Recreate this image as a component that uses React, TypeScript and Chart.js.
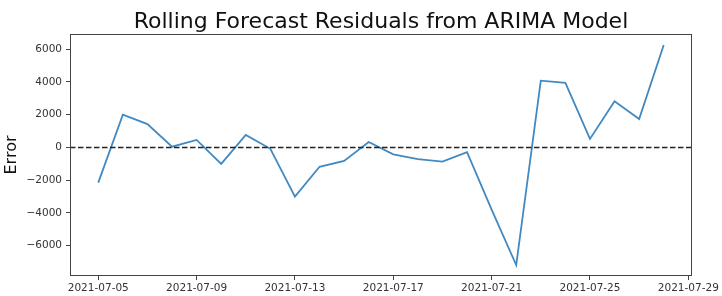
import React, { useEffect, useRef } from "react";
import { Chart, registerables } from "chart.js";

Chart.register(...registerables);

const dates = [
  "2021-07-05", "2021-07-06", "2021-07-07", "2021-07-08", "2021-07-09", "2021-07-10",
  "2021-07-11", "2021-07-12", "2021-07-13", "2021-07-14", "2021-07-15", "2021-07-16",
  "2021-07-17", "2021-07-18", "2021-07-19", "2021-07-20", "2021-07-21", "2021-07-22",
  "2021-07-23", "2021-07-24", "2021-07-25", "2021-07-26", "2021-07-27", "2021-07-28",
];
const residuals = [
  -2150, 2000, 1430, 50, 460, -1000,
  770, -80, -3000, -1180, -820, 330,
  -420, -710, -860, -280, -3800, -7180,
  4080, 3950, 520, 2820, 1740, 6260,
];
const xTickDates = ["2021-07-05", "2021-07-09", "2021-07-13", "2021-07-17", "2021-07-21", "2021-07-25", "2021-07-29"];
const yTicks = [-6000, -4000, -2000, 0, 2000, 4000, 6000];
const titleText = "Rolling Forecast Residuals from ARIMA Model";

const DAY = 86400000;
const t0 = Date.parse(dates[0]);
const dayIndex = (d: string) => Math.round((Date.parse(d) - t0) / DAY);

const FONT = "'DejaVu Sans', sans-serif";

const framePlugin = {
  id: "frameAndZero",
  afterDatasetsDraw(chart: any) {
    const { ctx, chartArea, scales } = chart;
    ctx.save();
    // zero line
    const y0 = scales.y.getPixelForValue(0);
    ctx.strokeStyle = "#222";
    ctx.lineWidth = 1.5;
    ctx.setLineDash([5.5, 2.5]);
    ctx.beginPath();
    ctx.moveTo(chartArea.left, y0);
    ctx.lineTo(chartArea.right, y0);
    ctx.stroke();
    ctx.setLineDash([]);
    // frame
    ctx.strokeStyle = "#444";
    ctx.lineWidth = 1;
    ctx.strokeRect(
      Math.round(chartArea.left) + 0.5,
      Math.round(chartArea.top) + 0.5,
      Math.round(chartArea.right - chartArea.left) - 1,
      Math.round(chartArea.bottom - chartArea.top) - 1
    );
    // title centred over the axes
    ctx.fillStyle = "#111";
    ctx.font = `22px ${FONT}`;
    ctx.textAlign = "center";
    ctx.textBaseline = "alphabetic";
    ctx.fillText(titleText, (chartArea.left + chartArea.right) / 2, chartArea.top - 6.3);
    ctx.restore();
  },
};

export default function App() {
  const ref = useRef<HTMLCanvasElement | null>(null);
  useEffect(() => {
    document.body.style.margin = "0";
    const xs = dates.map(dayIndex);
    const span = xs[xs.length - 1] - xs[0];
    const ymin = Math.min(...residuals);
    const ymax = Math.max(...residuals);
    const yr = ymax - ymin;
    const chart = new Chart(ref.current as HTMLCanvasElement, {
      type: "line",
      data: {
        datasets: [
          {
            data: xs.map((x, i) => ({ x, y: residuals[i] })),
            borderColor: "#4189c2",
            borderWidth: 1.8,
            pointRadius: 0,
            tension: 0,
            fill: false,
          },
        ],
      },
      options: {
        animation: false,
        responsive: false,
        maintainAspectRatio: false,
        layout: { padding: { left: 0, right: 30, top: 34, bottom: 0 } },
        plugins: {
          legend: { display: false },
          tooltip: { enabled: false },
          title: { display: false },
        },
        scales: {
          x: {
            type: "linear",
            min: xs[0] - span * 0.05,
            max: xs[xs.length - 1] + span * 0.05,
            afterBuildTicks: (scale: any) => {
              scale.ticks = xTickDates.map((d) => ({ value: dayIndex(d), label: d }));
            },
            afterFit: (scale: any) => {
              scale.height = 20;
            },
            ticks: {
              autoSkip: false,
              maxRotation: 0,
              color: "#333",
              font: { family: FONT, size: 10.5 },
              padding: 2,
              callback: (v: any) => {
                const d = new Date(t0 + Number(v) * DAY);
                return d.toISOString().slice(0, 10);
              },
            },
            grid: { drawOnChartArea: false, drawTicks: true, tickLength: 4, color: "#444" },
            border: { display: false },
          },
          y: {
            min: ymin - yr * 0.05,
            max: ymax + yr * 0.05,
            afterBuildTicks: (scale: any) => {
              scale.ticks = yTicks.map((v) => ({ value: v }));
            },
            afterFit: (scale: any) => {
              scale.width = 70;
            },
            ticks: {
              color: "#333",
              font: { family: FONT, size: 10.5 },
              padding: 4,
              callback: (v: any) => (Number(v) < 0 ? "\u2212" + Math.abs(Number(v)) : String(v)),
            },
            title: {
              display: true,
              text: "Error",
              color: "#111",
              font: { family: FONT, size: 16 },
              padding: { top: 2, bottom: 0 },
            },
            grid: { drawOnChartArea: false, drawTicks: true, tickLength: 4, color: "#444" },
            border: { display: false },
          },
        },
      },
      plugins: [framePlugin],
    } as any);
    return () => chart.destroy();
  }, []);
  return (
    <div style={{ position: "absolute", left: 0, top: 0, width: 722, height: 296, background: "#fff" }}>
      <canvas ref={ref} width={722} height={296} style={{ width: 722, height: 296, display: "block" }} />
    </div>
  );
}
